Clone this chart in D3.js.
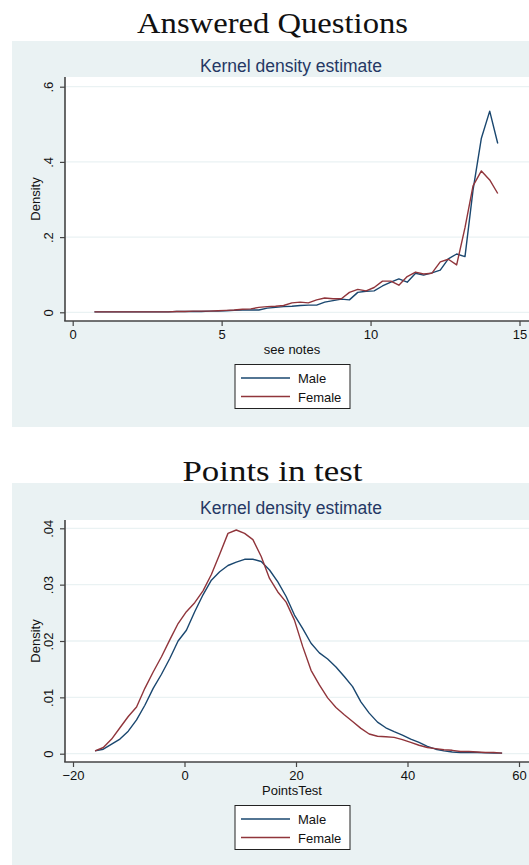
<!DOCTYPE html>
<html>
<head>
<meta charset="utf-8">
<script src="https://cdn.jsdelivr.net/npm/d3@7"></script>
<style>
  body { margin: 0; background: #fff; }
  text { font-family: "Liberation Sans", Arial, sans-serif; }
</style>
</head>
<body>
<div id="chart"></div>
<script>

// kdensity of answered questions (evaluation points, male, female)
var aqX = [0.73, 1.00, 1.28, 1.55, 1.83, 2.11, 2.38, 2.66, 2.94, 3.21,
           3.49, 3.77, 4.04, 4.32, 4.59, 4.87, 5.15, 5.42, 5.70, 5.98,
           6.25, 6.53, 6.81, 7.08, 7.36, 7.64, 7.91, 8.19, 8.46, 8.74,
           9.02, 9.29, 9.57, 9.85, 10.12, 10.40, 10.68, 10.95, 11.23, 11.51,
           11.78, 12.06, 12.34, 12.61, 12.89, 13.17, 13.44, 13.72, 14.00, 14.27];
var aqMale = [0.001, 0.001, 0.001, 0.001, 0.001, 0.001, 0.001, 0.001, 0.001, 0.001,
              0.002, 0.002, 0.002, 0.002, 0.003, 0.003, 0.004, 0.005, 0.006, 0.006,
              0.006, 0.011, 0.013, 0.015, 0.016, 0.018, 0.019, 0.019, 0.027, 0.031,
              0.035, 0.033, 0.053, 0.056, 0.057, 0.070, 0.080, 0.089, 0.080, 0.104,
              0.099, 0.105, 0.112, 0.142, 0.155, 0.148, 0.325, 0.463, 0.535, 0.449];
var aqFemale = [0.001, 0.001, 0.001, 0.001, 0.001, 0.001, 0.001, 0.001, 0.001, 0.001,
                0.002, 0.002, 0.003, 0.003, 0.003, 0.004, 0.005, 0.006, 0.008, 0.009,
                0.013, 0.015, 0.016, 0.018, 0.025, 0.027, 0.025, 0.033, 0.038, 0.036,
                0.036, 0.053, 0.061, 0.057, 0.066, 0.083, 0.083, 0.072, 0.095, 0.107,
                0.102, 0.104, 0.134, 0.141, 0.126, 0.225, 0.336, 0.376, 0.352, 0.316];

// kdensity of points in test
var ptX = [-16.05, -14.56, -13.07, -11.58, -10.09, -8.60, -7.11, -5.62, -4.13, -2.64,
           -1.15, 0.34, 1.83, 3.32, 4.82, 6.31, 7.80, 9.29, 10.78, 12.27,
           13.76, 15.25, 16.74, 18.23, 19.72, 21.21, 22.70, 24.19, 25.68, 27.17,
           28.66, 30.15, 31.64, 33.13, 34.62, 36.11, 37.60, 39.09, 40.58, 42.07,
           43.56, 45.05, 46.54, 48.03, 49.52, 51.01, 52.50, 53.99, 55.48, 56.97];
var ptMale = [0.0005, 0.0008, 0.0017, 0.0026, 0.0040, 0.0060, 0.0086, 0.0116, 0.0141, 0.0169,
              0.0200, 0.0219, 0.0252, 0.0282, 0.0308, 0.0323, 0.0334, 0.0340, 0.0345, 0.0345,
              0.0341, 0.0326, 0.0305, 0.0279, 0.0246, 0.0222, 0.0196, 0.0179, 0.0168, 0.0154,
              0.0137, 0.0119, 0.0092, 0.0072, 0.0056, 0.0046, 0.0039, 0.0033, 0.0026, 0.0020,
              0.0013, 0.0008, 0.0005, 0.0003, 0.0002, 0.0002, 0.0002, 0.00015, 0.0001, 0.0001];
var ptFemale = [0.0005, 0.0011, 0.0026, 0.0046, 0.0066, 0.0083, 0.0116, 0.0145, 0.0172, 0.0202,
                0.0231, 0.0252, 0.0268, 0.0289, 0.0318, 0.0354, 0.0391, 0.0397, 0.0391, 0.0380,
                0.0350, 0.0311, 0.0287, 0.0269, 0.0237, 0.0190, 0.0148, 0.0122, 0.0099, 0.0082,
                0.0069, 0.0057, 0.0045, 0.0035, 0.0031, 0.0030, 0.0029, 0.0025, 0.0020, 0.0015,
                0.0011, 0.0009, 0.0007, 0.0006, 0.0004, 0.0004, 0.0003, 0.0002, 0.0002, 0.0001];

// ticks and labels
var aqTicksX = [0, 5, 10, 15];
var aqTicksY = [0, 0.2, 0.4, 0.6];
var aqLabelsY = ["0", ".2", ".4", ".6"];
var ptTicksX = [-20, 0, 20, 40, 60];
var ptLabelsX = ["\u221220", "0", "20", "40", "60"];
var ptTicksY = [0, 0.01, 0.02, 0.03, 0.04];
var ptLabelsY = ["0", ".01", ".02", ".03", ".04"];
var seriesNames = ["Male", "Female"];

var colors = ["#1a476f", "#90353b"];
var W = 529, H = 865;

var svg = d3.select("#chart").append("svg")
    .attr("width", W)
    .attr("height", H);

svg.append("rect").attr("width", W).attr("height", H).attr("fill", "#fff");

function drawPanel(p) {
  // heading above the graph
  svg.append("text")
    .attr("x", 272.5)
    .attr("y", p.headY)
    .attr("text-anchor", "middle")
    .style("font-family", "'Liberation Serif', 'Times New Roman', serif")
    .attr("font-size", 30)
    .attr("textLength", p.headLen)
    .attr("lengthAdjust", "spacingAndGlyphs")
    .attr("fill", "#111")
    .text(p.heading);

  // graph region
  svg.append("rect")
    .attr("x", 12).attr("y", p.top)
    .attr("width", W - 12).attr("height", p.panelH)
    .attr("fill", "#eaf2f3");

  svg.append("text")
    .attr("x", 291)
    .attr("y", p.top + 31)
    .attr("text-anchor", "middle")
    .attr("font-size", 17.5)
    .attr("fill", "#253864")
    .text("Kernel density estimate");

  var x = d3.scaleLinear().domain(p.xDomain).range([p.x0, p.x1]);
  var y = d3.scaleLinear().domain(p.yDomain).range([p.y0, p.y1]);

  // plot region
  svg.append("rect")
    .attr("x", 65).attr("y", p.plotTop)
    .attr("width", W - 65).attr("height", p.axisY - p.plotTop)
    .attr("fill", "#fff");

  // grid
  svg.append("g").selectAll("line")
    .data(p.ticksY)
    .enter().append("line")
      .attr("x1", 66).attr("x2", W)
      .attr("y1", function(d) { return y(d); })
      .attr("y2", function(d) { return y(d); })
      .attr("stroke", "#eaf2f3")
      .attr("stroke-width", 1.3);

  // y axis
  var yAxis = svg.append("g")
    .attr("transform", "translate(65,0)")
    .call(d3.axisLeft(y).tickValues(p.ticksY).tickSize(5).tickSizeOuter(0)
      .tickFormat(function(d, i) { return p.labelsY[i]; }));
  yAxis.select(".domain").remove();
  yAxis.selectAll(".tick line").attr("stroke", "#444").attr("stroke-width", 1.2);
  yAxis.selectAll(".tick text")
    .attr("x", null).attr("dy", null)
    .attr("transform", "translate(-12,0) rotate(-90)")
    .attr("text-anchor", "middle")
    .attr("font-size", 13)
    .attr("fill", "#111");

  svg.append("line")
    .attr("x1", 65).attr("x2", 65)
    .attr("y1", p.plotTop).attr("y2", p.axisY)
    .attr("stroke", "#444").attr("stroke-width", 1.6);

  // x axis
  var xAxis = svg.append("g")
    .attr("transform", "translate(0," + p.axisY + ")")
    .call(d3.axisBottom(x).tickValues(p.ticksX).tickSize(5).tickSizeOuter(0)
      .tickFormat(function(d, i) { return p.labelsX[i]; }));
  xAxis.select(".domain").remove();
  xAxis.selectAll(".tick line").attr("stroke", "#444").attr("stroke-width", 1.2);
  xAxis.selectAll(".tick text")
    .attr("y", 17.5).attr("dy", null)
    .attr("font-size", 13)
    .attr("fill", "#111");

  svg.append("line")
    .attr("x1", 64.2).attr("x2", W)
    .attr("y1", p.axisY).attr("y2", p.axisY)
    .attr("stroke", "#444").attr("stroke-width", 1.6);

  // axis titles
  svg.append("text")
    .attr("transform", "translate(40," + ((p.plotTop + p.axisY) / 2) + ") rotate(-90)")
    .attr("text-anchor", "middle")
    .attr("font-size", 13)
    .attr("fill", "#111")
    .text("Density");

  svg.append("text")
    .attr("x", 292)
    .attr("y", p.axisY + 32.5)
    .attr("text-anchor", "middle")
    .attr("font-size", 13)
    .attr("fill", "#111")
    .text(p.xTitle);

  // density curves
  var line = d3.line()
    .x(function(d) { return x(d[0]); })
    .y(function(d) { return y(d[1]); });

  [p.male, p.female].forEach(function(s, j) {
    var pts = p.xs.map(function(v, i) { return [v, s[i]]; });
    svg.append("path")
      .datum(pts)
      .attr("d", line)
      .attr("fill", "none")
      .attr("stroke", colors[j])
      .attr("stroke-width", 1.4)
      .attr("stroke-linejoin", "round");
  });

  // legend
  var ly = p.axisY + 43.5;
  svg.append("rect")
    .attr("x", 235).attr("y", ly)
    .attr("width", 115).attr("height", 44)
    .attr("fill", "#fff")
    .attr("stroke", "#222")
    .attr("stroke-width", 1);

  seriesNames.forEach(function(name, j) {
    var cy = ly + 13.5 + j * 18.5;
    svg.append("line")
      .attr("x1", 241).attr("x2", 290)
      .attr("y1", cy).attr("y2", cy)
      .attr("stroke", colors[j])
      .attr("stroke-width", 1.4);
    svg.append("text")
      .attr("x", 298)
      .attr("y", cy + 5)
      .attr("font-size", 13)
      .attr("fill", "#111")
      .text(name);
  });
}

drawPanel({
  heading: "Answered Questions", headY: 33, headLen: 271,
  top: 41, panelH: 386, plotTop: 77, axisY: 321,
  xDomain: [0, 15], x0: 72.7, x1: 519.5,
  yDomain: [0, 0.6], y0: 312.3, y1: 86.7,
  ticksX: aqTicksX, labelsX: aqTicksX.map(String),
  ticksY: aqTicksY, labelsY: aqLabelsY,
  xTitle: "see notes",
  xs: aqX, male: aqMale, female: aqFemale
});

drawPanel({
  heading: "Points in test", headY: 481, headLen: 180,
  top: 483, panelH: 382, plotTop: 520, axisY: 762,
  xDomain: [-20, 60], x0: 73, x1: 519,
  yDomain: [0, 0.04], y0: 753.7, y1: 528.3,
  ticksX: ptTicksX, labelsX: ptLabelsX,
  ticksY: ptTicksY, labelsY: ptLabelsY,
  xTitle: "PointsTest",
  xs: ptX, male: ptMale, female: ptFemale
});

</script>
</body>
</html>
